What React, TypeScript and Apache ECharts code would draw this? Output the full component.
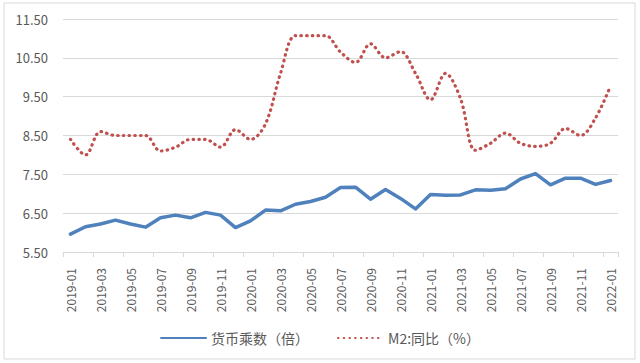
import React, { useEffect, useRef } from "react";
import * as echarts from "echarts";

const categories: string[] = [
  "2019-01", "2019-02", "2019-03", "2019-04", "2019-05", "2019-06", "2019-07", "2019-08", "2019-09", "2019-10", "2019-11", "2019-12",
  "2020-01", "2020-02", "2020-03", "2020-04", "2020-05", "2020-06", "2020-07", "2020-08", "2020-09", "2020-10", "2020-11", "2020-12",
  "2021-01", "2021-02", "2021-03", "2021-04", "2021-05", "2021-06", "2021-07", "2021-08", "2021-09", "2021-10", "2021-11", "2021-12",
  "2022-01",
];

const moneyMultiplier: number[] = [
  5.96, 6.15, 6.22, 6.32, 6.22, 6.14, 6.38, 6.45, 6.38, 6.52, 6.45, 6.13,
  6.30, 6.58, 6.56, 6.73, 6.80, 6.91, 7.16, 7.17, 6.86, 7.11, 6.88, 6.61,
  6.98, 6.96, 6.97, 7.10, 7.09, 7.13, 7.38, 7.52, 7.23, 7.40, 7.40, 7.24,
  7.34,
];

const m2Yoy: number[] = [
  8.4, 8.0, 8.6, 8.5, 8.5, 8.5, 8.1, 8.2, 8.4, 8.4, 8.2, 8.65,
  8.4, 8.8, 10.1, 11.07, 11.07, 11.07, 10.65, 10.38, 10.86, 10.5, 10.66, 10.1,
  9.42, 10.1, 9.45, 8.12, 8.3, 8.56, 8.3, 8.22, 8.3, 8.68, 8.5, 8.95,
  9.78,
];

const seriesNames: string[] = ["货币乘数（倍）", "M2:同比（%）"];

export default function App() {
  const ref = useRef<HTMLDivElement>(null);
  useEffect(() => {
    if (!ref.current) return;
    const chart = echarts.init(ref.current, undefined, { renderer: "svg" });
    const font = "'Noto Sans CJK SC', 'Noto Sans', sans-serif";
    chart.setOption({
      animation: false,
      backgroundColor: "#ffffff",
      textStyle: { fontFamily: font },
      graphic: [
        {
          type: "rect",
          shape: { x: 4, y: 3, width: 631, height: 356 },
          style: { fill: "none", stroke: "#D9D9D9", lineWidth: 1 },
          silent: true,
        },
      ],
      grid: { left: 63, right: 22, top: 19, bottom: 111, containLabel: false },
      legend: {
        left: "center",
        top: 326,
        itemWidth: 45,
        itemHeight: 14,
        itemGap: 28,
        itemStyle: { opacity: 0 },
        textStyle: { fontSize: 14, color: "#595959", fontFamily: font },
        data: seriesNames,
      },
      xAxis: {
        type: "category",
        data: categories,
        boundaryGap: true,
        axisLine: { lineStyle: { color: "#D9D9D9", width: 1 } },
        axisTick: { show: true, interval: 1, length: 5, lineStyle: { color: "#D9D9D9" } },
        axisLabel: {
          interval: 1,
          rotate: 90,
          margin: 16,
          fontSize: 12,
          color: "#595959",
          fontFamily: font,
        },
      },
      yAxis: {
        type: "value",
        min: 5.5,
        max: 11.5,
        interval: 1,
        axisLine: { show: false },
        axisTick: { show: false },
        splitLine: { lineStyle: { color: "#D9D9D9", width: 1 } },
        axisLabel: {
          formatter: (v: number) => v.toFixed(2),
          fontSize: 13,
          color: "#595959",
          margin: 15,
          fontFamily: font,
        },
      },
      series: [
        {
          name: seriesNames[0],
          type: "line",
          data: moneyMultiplier,
          symbol: "none",
          lineStyle: { color: "#4F81BD", width: 3.5, cap: "round", join: "round" },
          itemStyle: { color: "#4F81BD" },
        },
        {
          name: seriesNames[1],
          type: "line",
          data: m2Yoy,
          symbol: "none",
          smooth: 0.35,
          lineStyle: { color: "#C0504D", width: 3.2, type: [0.5, 5.2], cap: "round" },
          itemStyle: { color: "#C0504D" },
        },
      ],
    });
    return () => chart.dispose();
  }, []);
  return (
    <div
      ref={ref}
      style={{ position: "fixed", left: 0, top: 0, width: 640, height: 363 }}
    />
  );
}
